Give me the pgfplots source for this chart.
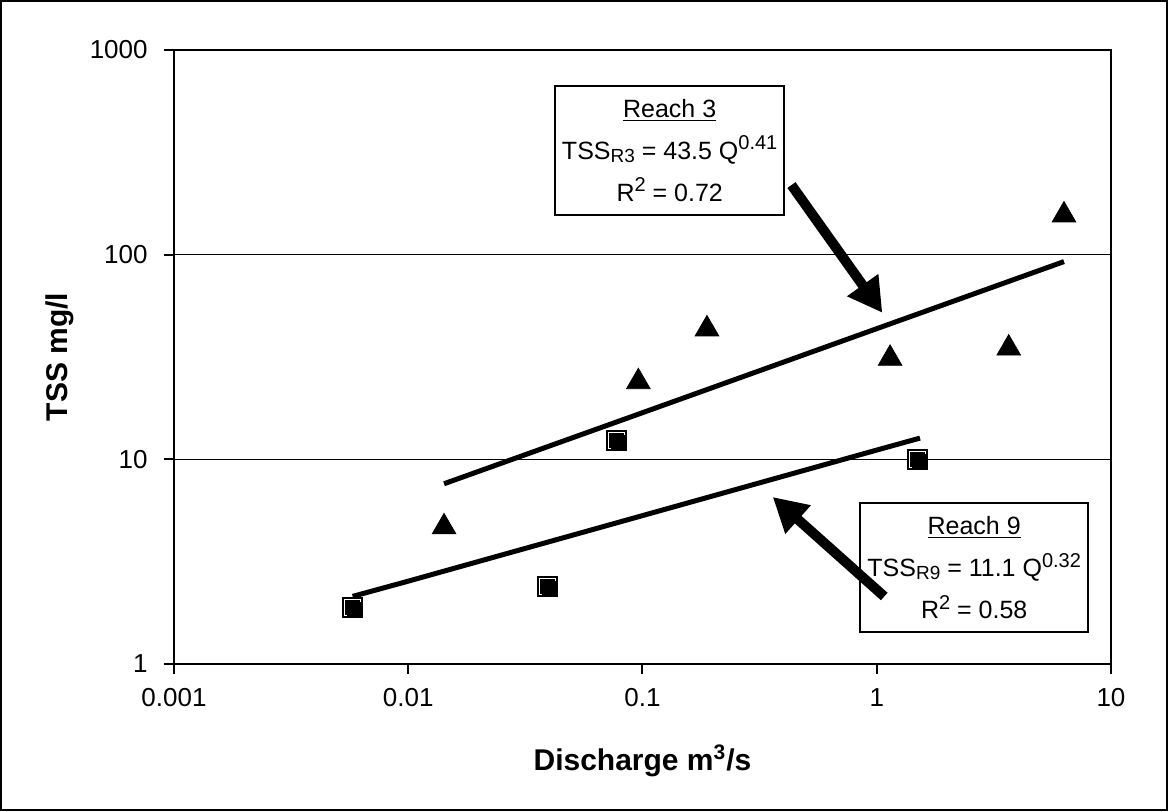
\documentclass[border=0pt]{standalone}
\usepackage{fontspec}
\setmainfont{Liberation Sans}
\usepackage{pgfplots}
\usepackage{pgfplotstable}
\pgfplotsset{compat=1.18}
\usetikzlibrary{arrows.meta}

\newcommand\sups[1]{\raisebox{4.7pt}{\fontsize{10}{11}\selectfont #1}}
\newcommand\subs[1]{\raisebox{-1.5pt}{\fontsize{9.5}{11}\selectfont #1}}

% Reach 3 samples (triangles) and Reach 9 samples (squares)
\pgfplotstableread{
Q TSS
0.01422 4.67
0.0960 23.9
0.1885 43.3
1.140 31.1
3.66 34.9
6.30 156
}\reachthree
\pgfplotstableread{
Q TSS
0.00579 1.88
0.0394 2.39
0.0778 12.3
1.50 9.93
}\reachnine
% power trend lines, TSS = 43.5 Q^0.41 and TSS = 11.1 Q^0.32
\pgfplotstableread{
Q TSS
0.01422 7.60
0.1 16.9
1 43.5
6.30 92.5
}\fitthree
\pgfplotstableread{
Q TSS
0.00579 2.14
0.01 2.54
0.1 5.31
1 11.1
1.53 12.7
}\fitnine

\begin{document}
\begin{tikzpicture}
\begin{axis}[
    at={(0,0)}, anchor=south west,
    width=468.5pt, height=307pt, scale only axis,
    xmode=log, ymode=log,
    xmin=0.001, xmax=10, ymin=1, ymax=1000,
    xtick={0.001,0.01,0.1,1,10}, xticklabels={0.001,0.01,0.1,1,10},
    ytick={1,10,100,1000}, yticklabels={1,10,100,1000},
    xminorticks=false, yminorticks=false,
    tick pos=left, tick align=outside, major tick length=5pt,
    axis line style={line width=1pt},
    every tick/.style={black, line width=1pt},
    ymajorgrids, major grid style={black, line width=0.5pt},
    /pgf/number format/assume math mode=true,
    tick label style={font=\fontsize{13}{16}\selectfont},
    xticklabel style={anchor=north, inner sep=0pt, yshift=-7pt},
    yticklabel style={anchor=east, inner sep=0pt, xshift=-8pt},
    xlabel={Discharge m\textsuperscript{3}/s},
    ylabel={TSS mg/l},
    every axis x label/.style={at={([yshift=-48.5pt]axis description cs:0.5,0)},
        anchor=center, font=\fontsize{15}{18}\selectfont\bfseries},
    every axis y label/.style={at={([xshift=-57pt]axis description cs:0,0.5)},
        anchor=center, rotate=90, font=\fontsize{15}{18}\selectfont\bfseries},
]
\addplot[black, line width=2.5pt] table {\fitthree};
\addplot[black, line width=2.5pt] table {\fitnine};
\addplot[only marks, mark=triangle*, mark size=6.8pt,
    mark options={fill=black, draw=black}] table {\reachthree};
\addplot[only marks, mark=square*, mark size=5pt,
    mark options={fill=black, draw=black, line width=0pt}] table {\reachnine};
\addplot[only marks, mark=square, mark size=4pt,
    mark options={draw=white, line width=0.5pt}] table {\reachnine};
\addplot[only marks, mark=square*, mark size=3.5pt,
    mark options={fill=black, draw=black, line width=0pt, xshift=0.75pt, yshift=-0.75pt}] table {\reachnine};

\node[draw, line width=1pt, fill=white, minimum width=114pt, minimum height=64.5pt,
      align=center, font=\fontsize{12.5}{21}\selectfont]
  at (rel axis cs:0.529,0.837)
  {\underline{Reach 3}\\TSS\subs{R3} = 43.5 Q\sups{0.41}\\R\sups{2} = 0.72};
\node[draw, line width=1pt, fill=white, minimum width=114pt, minimum height=64.5pt,
      align=center, font=\fontsize{12.5}{21}\selectfont]
  at (rel axis cs:0.854,0.157)
  {\underline{Reach 9}\\TSS\subs{R9} = 11.1 Q\sups{0.32}\\R\sups{2} = 0.58};
\draw[line width=5pt, -{Triangle[length=17pt,width=18pt]}]
  (rel axis cs:0.659,0.780) -- (rel axis cs:0.756,0.572);
\draw[line width=5pt, -{Triangle[length=17pt,width=18pt]}]
  (rel axis cs:0.758,0.110) -- (rel axis cs:0.639,0.272);
\end{axis}
\draw[line width=1pt] (-86.5pt,-73pt) rectangle (496.5pt,331.5pt);
\pgfresetboundingbox
\path[use as bounding box] (-87pt,-73.5pt) rectangle (497pt,332pt);
\end{tikzpicture}
\end{document}
